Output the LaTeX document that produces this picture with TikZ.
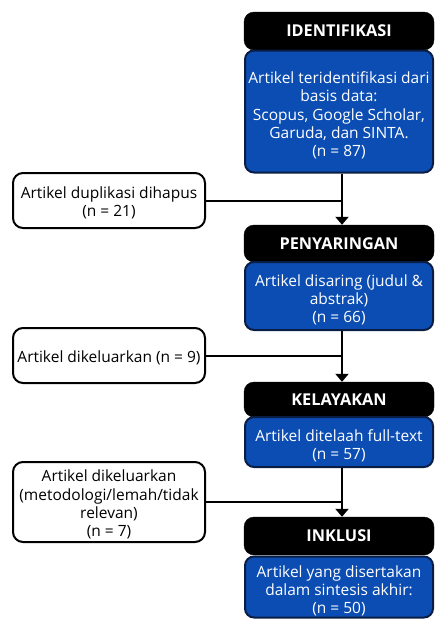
\documentclass[tikz,border=0pt]{standalone}
\usepackage{fontspec}
\setmainfont{Open Sans}
\usetikzlibrary{arrows.meta}
\definecolor{boxblue}{HTML}{0B4DB3}
\definecolor{boxedge}{HTML}{0A1E45}
\tikzset{
  hdr/.style={draw=black, fill=black, rounded corners=10pt, text=white,
    font=\bfseries\fontsize{16.3}{18}\selectfont, minimum width=190pt, inner sep=0pt},
  bluebox/.style={draw=boxedge, line width=2pt, fill=boxblue, rounded corners=9pt,
    minimum width=188pt, inner sep=0pt},
  whitebox/.style={draw=black, line width=2pt, fill=white, rounded corners=10pt,
    minimum width=192pt, inner sep=0pt},
  bluetext/.style={text=white, font=\fontsize{15.5}{18.3}\selectfont, align=center, inner sep=0pt, yshift=-4pt},
  whitetext/.style={text=black, font=\fontsize{15.5}{18.3}\selectfont, align=center, inner sep=0pt, yshift=-2.5pt},
  link/.style={draw=black, line width=2pt},
  flow/.style={draw=black, line width=2pt, -{Triangle[width=13pt,length=8pt]}}
}
\begin{document}
\begin{tikzpicture}[x=1pt,y=-1pt]
\useasboundingbox (0,0) rectangle (436,619);
% headers
\node[hdr, minimum height=38pt] (h1) at (339,31) {IDENTIFIKASI};
\node[hdr, minimum height=37pt] (h2) at (339,243.5) {PENYARINGAN};
\node[hdr, minimum height=35pt] (h3) at (339,399.5) {KELAYAKAN};
\node[hdr, minimum height=38pt] (h4) at (339,536) {INKLUSI};
% blue boxes
\node[bluebox, minimum height=122pt] (b1) at (339,111.5) {};
\node[bluetext] (t1) at (b1.center) {Artikel teridentifikasi dari\\basis data:\\Scopus, Google Scholar,\\Garuda, dan SINTA.\\(n = 87)};
\node[bluebox, minimum height=68pt] (b2) at (339,296) {};
\node[bluetext] (t2) at (b2.center) {Artikel disaring (judul \&\\abstrak)\\(n = 66)};
\node[bluebox, minimum height=50pt] (b3) at (339,442) {};
\node[bluetext] (t3) at (b3.center) {Artikel ditelaah full-text\\(n = 57)};
\node[bluebox, minimum height=61pt] (b4) at (339,587) {};
\node[bluetext] (t4) at (b4.center) {Artikel yang disertakan\\dalam sintesis akhir:\\(n = 50)};
% white boxes
\node[whitebox, minimum height=55pt] (w1) at (109,200.5) {};
\node[whitetext] (u1) at (w1.center) {Artikel duplikasi dihapus\\(n = 21)};
\node[whitebox, minimum height=55pt] (w2) at (109,355.5) {};
\node[whitetext] (u2) at (w2.center) {Artikel dikeluarkan (n = 9)};
\node[whitebox, minimum height=80pt] (w3) at (109,502) {};
\node[whitetext] (u3) at (w3.center) {Artikel dikeluarkan\\(metodologi/lemah/tidak\\relevan)\\(n = 7)};
% junctions
\coordinate (j1) at (342,200.5);
\coordinate (j2) at (342,355.5);
\coordinate (j3) at (342,502);
% connectors
\draw[flow] (b1.south -| j1) -- (h2.north -| j1);
\draw[link] (w1.east) -- (j1);
\draw[flow] (b2.south -| j2) -- (h3.north -| j2);
\draw[link] (w2.east) -- (j2);
\draw[flow] (b3.south -| j3) -- (h4.north -| j3);
\draw[link] (w3.east) -- (j3);
\end{tikzpicture}
\end{document}
